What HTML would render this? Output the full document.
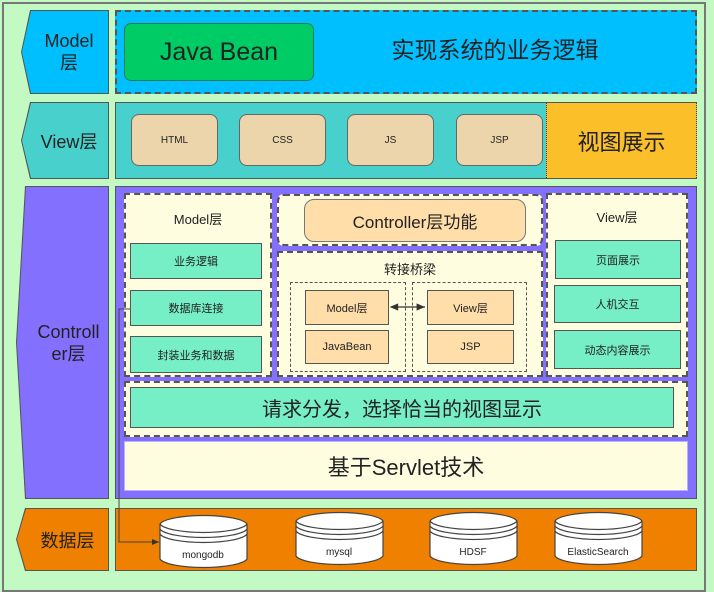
<!DOCTYPE html>
<html><head><meta charset="utf-8"><style>
body{margin:0;width:714px;height:577px;background:#c3fac3;position:relative;overflow:hidden;font-family:"Liberation Sans","Noto Sans CJK SC",sans-serif;color:#222}
div{position:absolute;box-sizing:border-box}
.c{display:flex;align-items:center;justify-content:center;text-align:center}
.lbl{clip-path:polygon(9px 0,100% 0,100% 100%,9px 100%,0 50%)}
.dash{border:2px dashed #555}
.tq{background:#76eec6;border:1.5px solid #555;font-size:11px}
.pe{background:#ffdeaa;border:1.5px solid #555;font-size:11px}
.cr{background:#ecd5ab;border:1.5px solid #666;border-radius:8px;font-size:10px}
</style></head><body>
<div style="left:2px;top:2px;width:704px;height:590px;border:2px solid #777"></div>

<!-- Model row -->
<div class="lbl" style="left:21px;top:10px;width:88px;height:84px;background:#555"></div>
<div class="lbl c" style="left:22px;top:11px;width:86px;height:82px;background:#00bfff;font-size:18px;line-height:22px;padding-left:8px">Model<br>层</div>
<div class="dash" style="left:115px;top:10px;width:582px;height:84px;background:#00bfff"></div>
<div class="c" style="left:124px;top:23px;width:190px;height:58px;background:#00cc66;border:1.5px solid #2a7a55;border-radius:7px;font-size:25px">Java Bean</div>
<div class="c" style="left:330px;top:23px;width:330px;height:50px;font-size:23px">实现系统的业务逻辑</div>

<!-- View row -->
<div class="lbl" style="left:21px;top:102px;width:88px;height:77px;background:#555"></div>
<div class="lbl c" style="left:22px;top:103px;width:86px;height:75px;background:#48d1cc;font-size:18px;padding-left:8px">View层</div>
<div style="left:115px;top:102px;width:582px;height:77px;background:#48d1cc;border:1.5px solid #555"></div>
<div class="cr c" style="left:131px;top:114px;width:87px;height:52px">HTML</div>
<div class="cr c" style="left:239px;top:114px;width:87px;height:52px">CSS</div>
<div class="cr c" style="left:347px;top:114px;width:87px;height:52px">JS</div>
<div class="cr c" style="left:456px;top:114px;width:87px;height:52px">JSP</div>
<div class="c" style="left:546px;top:103px;width:151px;height:75px;background:#fbbf29;border-left:1px dotted #444;border-right:1px dotted #444;font-size:22px">视图展示</div>

<!-- Controller row -->
<div class="lbl" style="left:16px;top:186px;width:93px;height:313px;background:#555"></div>
<div class="lbl c" style="left:17px;top:187px;width:91px;height:311px;background:#8470ff;font-size:18px;line-height:22px;padding-left:12px">Controll<br>er层</div>
<div style="left:115px;top:186px;width:582px;height:313px;background:#8470ff;border:1.5px solid #555"></div>

<div class="dash" style="left:124px;top:193px;width:148px;height:184px;background:#fffde0"></div>
<div class="c" style="left:124px;top:208px;width:148px;height:20px;font-size:13px">Model层</div>
<div class="tq c" style="left:130px;top:243px;width:132px;height:36px">业务逻辑</div>
<div class="tq c" style="left:130px;top:290px;width:132px;height:36px">数据库连接</div>
<div class="tq c" style="left:130px;top:336px;width:132px;height:37px">封装业务和数据</div>

<div class="dash" style="left:277px;top:194px;width:266px;height:52px;background:#fffde0;border-radius:7px"></div>
<div class="c" style="left:304px;top:199px;width:222px;height:43px;background:#ffdeaa;border:1.5px solid #777;border-radius:10px;font-size:17px">Controller层功能</div>

<div class="dash" style="left:277px;top:251px;width:266px;height:126px;background:#fffde0"></div>
<div class="c" style="left:277px;top:258px;width:266px;height:20px;font-size:13px">转接桥梁</div>
<div style="left:290px;top:282px;width:116px;height:90px;border:1.5px dashed #555"></div>
<div style="left:412px;top:282px;width:115px;height:90px;border:1.5px dashed #555"></div>
<div class="pe c" style="left:305px;top:290px;width:84px;height:35px">Model层</div>
<div class="pe c" style="left:305px;top:330px;width:84px;height:34px">JavaBean</div>
<div class="pe c" style="left:427px;top:290px;width:87px;height:35px">View层</div>
<div class="pe c" style="left:427px;top:330px;width:87px;height:34px">JSP</div>

<div class="dash" style="left:546px;top:193px;width:142px;height:184px;background:#fffde0"></div>
<div class="c" style="left:546px;top:206px;width:142px;height:20px;font-size:13px">View层</div>
<div class="tq c" style="left:555px;top:240px;width:126px;height:39px">页面展示</div>
<div class="tq c" style="left:554px;top:285px;width:127px;height:38px">人机交互</div>
<div class="tq c" style="left:554px;top:330px;width:127px;height:39px">动态内容展示</div>

<div class="dash" style="left:124px;top:381px;width:564px;height:56px;background:#fffde0"></div>
<div class="tq c" style="left:130px;top:387px;width:544px;height:41px;font-size:20px">请求分发，选择恰当的视图显示</div>
<div class="c" style="left:124px;top:441px;width:564px;height:50px;background:#fffde0;border:1.5px solid #b9b0ff;font-size:22px">基于Servlet技术</div>

<!-- Data row -->
<div class="lbl" style="left:16px;top:508px;width:93px;height:63px;background:#555"></div>
<div class="lbl c" style="left:17px;top:509px;width:91px;height:61px;background:#f08000;font-size:18px;padding-left:10px">数据层</div>
<div style="left:115px;top:508px;width:582px;height:63px;background:#f08000;border:1.5px solid #555"></div>

<svg style="position:absolute;left:0;top:0" width="714" height="577">
<defs><marker id="a" markerWidth="8" markerHeight="8" refX="7" refY="4" orient="auto"><path d="M0,1 L7,4 L0,7z" fill="#333"/></marker>
<marker id="b" markerWidth="8" markerHeight="8" refX="1" refY="4" orient="auto"><path d="M7,1 L0,4 L7,7z" fill="#333"/></marker></defs>
<line x1="391" y1="307" x2="425" y2="307" stroke="#333" stroke-width="1.2" marker-end="url(#a)" marker-start="url(#b)"/>
<polyline points="130,309 119,309 119,542 159,542" fill="none" stroke="#444" stroke-width="1" marker-end="url(#a)"/>
<g stroke="#444" stroke-width="1.2" fill="#fff" font-size="10" font-family="Liberation Sans, sans-serif">
<g transform="translate(160,514)"><path d="M0,10 A44,10 0 0 1 87,10 L87,45 A44,10 0 0 1 0,45Z"/><path d="M0,10 A44,10 0 0 0 87,10 M0,15 A44,10 0 0 0 87,15 M0,20 A44,10 0 0 0 87,20" fill="none"/><text x="43" y="44" text-anchor="middle" stroke="none" fill="#222">mongodb</text></g>
<g transform="translate(296,511)"><path d="M0,10 A44,10 0 0 1 87,10 L87,45 A44,10 0 0 1 0,45Z"/><path d="M0,10 A44,10 0 0 0 87,10 M0,15 A44,10 0 0 0 87,15 M0,20 A44,10 0 0 0 87,20" fill="none"/><text x="43" y="44" text-anchor="middle" stroke="none" fill="#222">mysql</text></g>
<g transform="translate(430,511)"><path d="M0,10 A44,10 0 0 1 87,10 L87,45 A44,10 0 0 1 0,45Z"/><path d="M0,10 A44,10 0 0 0 87,10 M0,15 A44,10 0 0 0 87,15 M0,20 A44,10 0 0 0 87,20" fill="none"/><text x="43" y="44" text-anchor="middle" stroke="none" fill="#222">HDSF</text></g>
<g transform="translate(555,511)"><path d="M0,10 A44,10 0 0 1 87,10 L87,45 A44,10 0 0 1 0,45Z"/><path d="M0,10 A44,10 0 0 0 87,10 M0,15 A44,10 0 0 0 87,15 M0,20 A44,10 0 0 0 87,20" fill="none"/><text x="43" y="44" text-anchor="middle" stroke="none" fill="#222">ElasticSearch</text></g>
</g>
</svg>
</body></html>
